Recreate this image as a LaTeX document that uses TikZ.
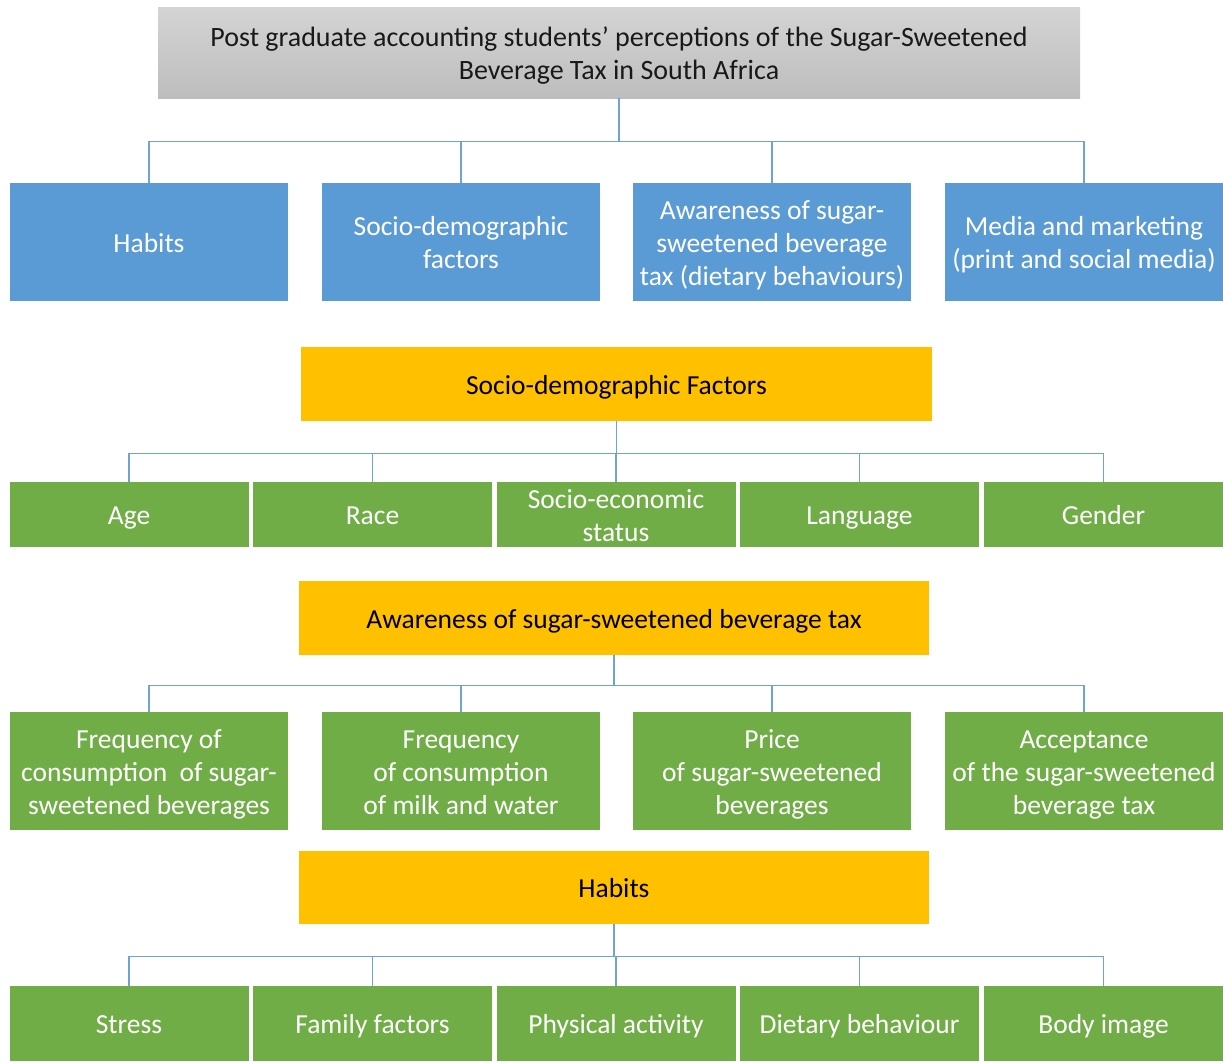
\documentclass[tikz,border=0pt]{standalone}
\usepackage{fontspec}
\setmainfont{Carlito}
\usetikzlibrary{positioning}

\definecolor{topgray}{HTML}{D4D4D4}
\definecolor{botgray}{HTML}{BDBDBD}
\definecolor{mainblue}{HTML}{5B9BD5}
\definecolor{headorange}{HTML}{FFC000}
\definecolor{itemgreen}{HTML}{70AD47}
\definecolor{linkblue}{HTML}{6FA3D8}

\tikzset{
  base/.style={rectangle, inner sep=0pt, align=center,
    font=\fontsize{27.5}{33}\selectfont, text height=24pt, text depth=4pt},
  twoline/.style={text height=57pt},
  threeline/.style={text height=90pt},
  titlebox/.style={base, twoline, top color=topgray, bottom color=botgray,
    text=black!90, minimum width=922pt, minimum height=91pt},
  themebox/.style={base, fill=mainblue, text=white,
    minimum width=278pt, minimum height=118pt},
  headbox/.style={base, fill=headorange, text=black,
    minimum width=630pt, minimum height=74pt},
  widebox/.style={base, threeline, fill=itemgreen, text=white,
    minimum width=278pt, minimum height=118pt},
  smallbox/.style={base, fill=itemgreen, text=white,
    minimum width=239pt, minimum height=65pt},
  link/.style={draw=linkblue, line width=1.4pt}
}

\begin{document}
\begin{tikzpicture}[x=1pt, y=-1pt]
  \useasboundingbox (0,0) rectangle (1223,1061);

  % title
  \node[titlebox, font=\fontsize{28}{33}\selectfont] (title) at (619,52.5)
    {Post graduate accounting students’ perceptions of the Sugar-Sweetened\\Beverage Tax in South Africa};

  % main themes
  \node[themebox] (habits) at (149,242) {Habits};
  \node[themebox, twoline] (socio) at (461,242) {Socio-demographic\\factors};
  \node[themebox, threeline] (aware) at (772,242) {Awareness of sugar-\\sweetened beverage\\tax (dietary behaviours)};
  \node[themebox, twoline] (media) at (1084,242) {Media and marketing\\(print and social media)};

  \foreach \c in {habits,socio,aware,media}
    \draw[link] (title.south) -- ++(0,43) -| (\c.north);

  % socio-demographic factors
  \node[headbox, minimum width=631pt] (sochead) at (616.5,384) {Socio-demographic Factors};
  \node[smallbox] (age) at (129,514.5) {Age};
  \node[smallbox] (race) at (372.5,514.5) {Race};
  \node[smallbox, twoline] (ses) at (616,514.5) {Socio-economic\\status};
  \node[smallbox] (lang) at (859.5,514.5) {Language};
  \node[smallbox] (gender) at (1103.5,514.5) {Gender};

  \foreach \c in {age,race,ses,lang,gender}
    \draw[link] (sochead.south) -- ++(0,32) -| (\c.north);

  % awareness of the tax
  \node[headbox] (awhead) at (614,618) {Awareness of sugar-sweetened beverage tax};
  \node[widebox] (freqssb) at (149,771) {Frequency of\\consumption~ of sugar-\\sweetened beverages};
  \node[widebox] (freqmw) at (461,771) {Frequency\\of consumption\\of milk and water};
  \node[widebox] (price) at (772,771) {Price\\of sugar-sweetened\\beverages};
  \node[widebox] (accept) at (1084,771) {Acceptance\\of the sugar-sweetened\\beverage tax};

  \foreach \c in {freqssb,freqmw,price,accept}
    \draw[link] (awhead.south) -- ++(0,30) -| (\c.north);

  % habits
  \node[headbox, minimum height=73pt] (habhead) at (614,887.5) {Habits};
  \node[smallbox, minimum height=75pt] (stress) at (129,1023.5) {Stress};
  \node[smallbox, minimum height=75pt] (family) at (372.5,1023.5) {Family factors};
  \node[smallbox, minimum height=75pt] (phys) at (616,1023.5) {Physical activity};
  \node[smallbox, minimum height=75pt] (diet) at (859.5,1023.5) {Dietary behaviour};
  \node[smallbox, minimum height=75pt] (body) at (1103.5,1023.5) {Body image};

  \foreach \c in {stress,family,phys,diet,body}
    \draw[link] (habhead.south) -- ++(0,32) -| (\c.north);
\end{tikzpicture}
\end{document}
